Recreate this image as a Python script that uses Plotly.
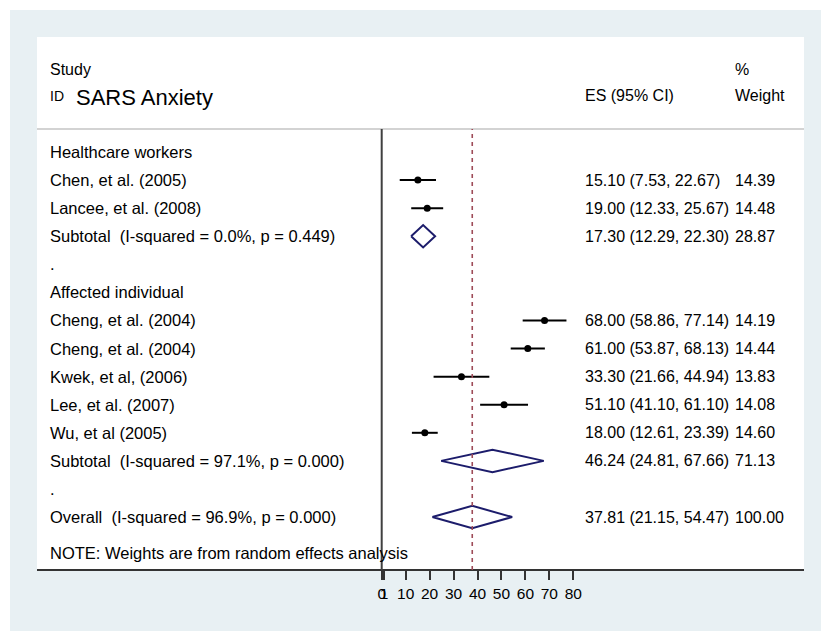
import plotly.graph_objects as go

# study rows, top to bottom
row_labels = [
    "Healthcare workers",
    "Chen, et al. (2005)",
    "Lancee, et al. (2008)",
    "Subtotal  (I-squared = 0.0%, p = 0.449)",
    ".",
    "Affected individual",
    "Cheng, et al. (2004)",
    "Cheng, et al. (2004)",
    "Kwek, et al, (2006)",
    "Lee, et al. (2007)",
    "Wu, et al (2005)",
    "Subtotal  (I-squared = 97.1%, p = 0.000)",
    ".",
    "Overall  (I-squared = 96.9%, p = 0.000)",
]
# kind of each row: header / study / pooled / blank
row_kind = ["head", "study", "study", "pool", "blank", "head",
            "study", "study", "study", "study", "study", "pool", "blank", "pool"]
es = [None, 15.10, 19.00, 17.30, None, None, 68.00, 61.00, 33.30, 51.10, 18.00, 46.24, None, 37.81]
ci_low = [None, 7.53, 12.33, 12.29, None, None, 58.86, 53.87, 21.66, 41.10, 12.61, 24.81, None, 21.15]
ci_high = [None, 22.67, 25.67, 22.30, None, None, 77.14, 68.13, 44.94, 61.10, 23.39, 67.66, None, 54.47]
weights = [None, 14.39, 14.48, 28.87, None, None, 14.19, 14.44, 13.83, 14.08, 14.60, 71.13, None, 100.00]

tick_vals = [0, 1, 10, 20, 30, 40, 50, 60, 70, 80]
tick_text = ["0", "1", "10", "20", "30", "40", "50", "60", "70", "80"]

# the page puts the plot 8px in from the window corner
OFF = 8
W, H = 829 - OFF, 644 - OFF
FONT = "Liberation Sans, Arial, sans-serif"
NAVY = "#1c1c6b"


def px_x(px):
    # window pixel column -> paper fraction
    return (px - OFF) / W


def px_y(px):
    # window pixel row -> paper fraction
    return 1 - (px - OFF) / H


fig = go.Figure()

# CI lines + point estimates for individual studies, diamonds for pooled ones
for i, kind in enumerate(row_kind):
    if kind == "study":
        fig.add_trace(go.Scatter(
            x=[ci_low[i], ci_high[i]], y=[i, i], mode="lines",
            line=dict(color="black", width=2), showlegend=False, hoverinfo="skip"))
        fig.add_trace(go.Scatter(
            x=[es[i]], y=[i], mode="markers",
            marker=dict(color="black", size=7), showlegend=False))
    elif kind == "pool":
        fig.add_trace(go.Scatter(
            x=[ci_low[i], es[i], ci_high[i], es[i], ci_low[i]],
            y=[i, i - 0.4, i, i + 0.4, i],
            mode="lines", line=dict(color=NAVY, width=2),
            showlegend=False, hoverinfo="skip"))

annotations = []
left_x = px_x(48)
es_x = px_x(583)
wt_x = px_x(733)
for i, lab in enumerate(row_labels):
    annotations.append(dict(x=left_x, y=i, xref="paper", yref="y", text=lab,
                            xanchor="left", yanchor="middle", showarrow=False,
                            font=dict(size=16.5, color="black", family=FONT)))
    if es[i] is not None:
        annotations.append(dict(x=es_x, y=i, xref="paper", yref="y",
                                text=f"{es[i]:.2f} ({ci_low[i]:.2f}, {ci_high[i]:.2f})",
                                xanchor="left", yanchor="middle", showarrow=False,
                                font=dict(size=16, color="black", family=FONT)))
        annotations.append(dict(x=wt_x, y=i, xref="paper", yref="y",
                                text=f"{weights[i]:.2f}",
                                xanchor="left", yanchor="middle", showarrow=False,
                                font=dict(size=16, color="black", family=FONT)))

# header texts
headers = [
    ("Study", 48, 69, 16),
    ("ID", 48, 96, 14),
    ("SARS Anxiety", 74, 97, 22),
    ("ES (95% CI)", 583, 96, 16),
    ("%", 733, 69, 16),
    ("Weight", 733, 96, 16),
    ("NOTE: Weights are from random effects analysis", 48, 553, 16.5),
]
for txt, x, y, s in headers:
    annotations.append(dict(x=px_x(x), y=px_y(y), xref="paper", yref="paper", text=txt,
                            xanchor="left", yanchor="middle", showarrow=False,
                            font=dict(size=s, color="black", family=FONT)))

overall_es = es[-1]
shapes = [
    # outer pale frame
    dict(type="rect", xref="paper", yref="paper", x0=px_x(10), x1=px_x(823),
         y0=px_y(631), y1=px_y(10), fillcolor="#e8f0f3", line=dict(width=0), layer="below"),
    # white plot panel
    dict(type="rect", xref="paper", yref="paper", x0=px_x(37), x1=px_x(804),
         y0=px_y(570), y1=px_y(37), fillcolor="white", line=dict(width=0), layer="below"),
    # header separator
    dict(type="line", xref="paper", yref="paper", x0=px_x(37), x1=px_x(804),
         y0=px_y(129), y1=px_y(129), line=dict(color="#c4c4c4", width=1.5)),
    # null line
    dict(type="line", xref="x", yref="paper", x0=0, x1=0,
         y0=px_y(570), y1=px_y(129), line=dict(color="#404040", width=2)),
    # overall effect line
    dict(type="line", xref="x", yref="paper", x0=overall_es, x1=overall_es,
         y0=px_y(570), y1=px_y(129), line=dict(color="#9e4b58", width=1.6, dash="4px,4px")),
]

x_left_px, x_right_px = 37, 804
zero_px, scale = 381.7, 2.395
row0_px, row_step = 152, 28.08
fig.update_layout(
    width=W, height=H,
    margin=dict(l=0, r=0, t=0, b=0),
    paper_bgcolor="white", plot_bgcolor="rgba(0,0,0,0)",
    showlegend=False,
    annotations=annotations,
    shapes=shapes,
    xaxis=dict(
        domain=[px_x(x_left_px), px_x(x_right_px)],
        range=[(x_left_px - zero_px) / scale, (x_right_px - zero_px) / scale],
        anchor="free", position=px_y(570),
        showgrid=False, zeroline=False,
        showline=True, linecolor="#333333", linewidth=2,
        ticks="outside", ticklen=9, tickwidth=1.5, tickcolor="#333333",
        tickvals=tick_vals, ticktext=tick_text, tickangle=0,
        tickfont=dict(size=15.5, color="black", family=FONT),
    ),
    yaxis=dict(
        domain=[0, 1],
        range=[(644 - row0_px) / row_step, (OFF - row0_px) / row_step],
        visible=False, showgrid=False, zeroline=False,
    ),
)

fig.write_html("out.html")
